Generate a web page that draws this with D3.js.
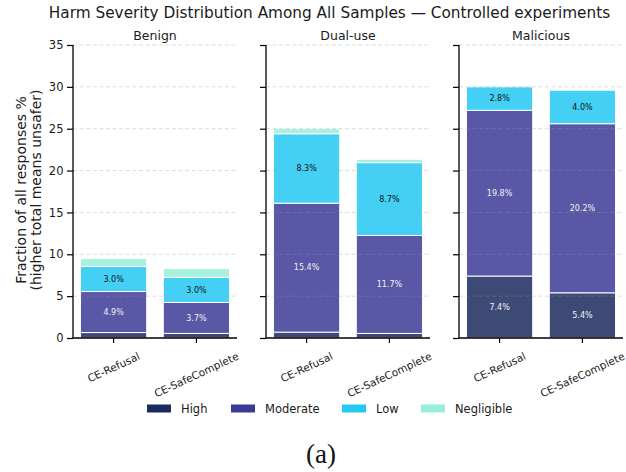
<!DOCTYPE html>
<html>
<head>
<meta charset="utf-8">
<script src="https://cdn.jsdelivr.net/npm/d3@7"></script>
<style>
  html, body { margin: 0; padding: 0; background: #fff; }
  svg { display: block; font-family: "DejaVu Sans", sans-serif; }
</style>
</head>
<body>
<svg id="chart" width="626" height="472"></svg>
<script>
// ---- data ----
const panels = ["Benign", "Dual-use", "Malicious"];
const conditions = ["CE-Refusal", "CE-SafeComplete"];
const severities = ["High", "Moderate", "Low", "Negligible"];
const high       = [[0.65, 0.55], [0.7, 0.55], [7.4, 5.4]];
const moderate   = [[4.9, 3.7], [15.4, 11.7], [19.8, 20.2]];
const low        = [[3.0, 3.0], [8.3, 8.7], [2.8, 4.0]];
const negligible = [[0.95, 1.05], [0.6, 0.4], [0.0, 0.0]];
const yTicks = [0, 5, 10, 15, 20, 25, 30, 35];
const titleText = "Harm Severity Distribution Among All Samples \u2014 Controlled experiments";
const yLabel1 = "Fraction of all responses %";
const yLabel2 = "(higher total means unsafer)";
const captionText = "(a)";

// ---- styles ----
const colors = { High: "#1b2a5e", Moderate: "#3c3a96", Low: "#23c8f3", Negligible: "#99eedb" };
const labelColors = { High: "#f2f2f2", Moderate: "#f2f2f2", Low: "#111", Negligible: "#111" };
const seriesValues = { High: high, Moderate: moderate, Low: low, Negligible: negligible };

const svg = d3.select("#chart");
const panelLeft = [73, 266, 459];
const panelW = 164;
const yTop = 45, yBottom = 338;

const y = d3.scaleLinear().domain([0, 35]).range([yBottom, yTop]);

// Title
svg.append("text").attr("x", 329.5).attr("y", 18).attr("text-anchor", "middle")
  .attr("font-size", 15.3).attr("fill", "#1a1a1a").text(titleText);

// Y label
const yl = svg.append("text").attr("transform", `translate(26,${190}) rotate(-90)`)
  .attr("text-anchor", "middle").attr("font-size", 14).attr("fill", "#1a1a1a");
yl.append("tspan").attr("x", 0).attr("dy", 0).text(yLabel1);
yl.append("tspan").attr("x", 0).attr("dy", 15.4).text(yLabel2);

panels.forEach((p, pi) => {
  const g = svg.append("g").attr("transform", `translate(${panelLeft[pi]},0)`);
  const x = d3.scaleBand().domain(conditions).range([0, panelW])
    .paddingInner(0.2).paddingOuter(0.09);

  // stacked data
  const rows = conditions.map((c, ci) => {
    const r = { cond: c };
    severities.forEach(s => r[s] = seriesValues[s][pi][ci]);
    return r;
  });
  const stacked = d3.stack().keys(severities)(rows);

  // bars
  stacked.forEach(layer => {
    const s = layer.key;
    g.selectAll(null).data(layer).enter().append("rect")
      .attr("x", d => x(d.data.cond))
      .attr("width", x.bandwidth())
      .attr("y", d => y(d[1]))
      .attr("height", d => Math.max(0, y(d[0]) - y(d[1])))
      .attr("fill", colors[s]).attr("fill-opacity", 0.85)
      .attr("stroke", "#fff").attr("stroke-width", 1)
      .style("display", d => (d[1] - d[0]) > 0 ? null : "none");
  });

  // grid lines (over bars, faint)
  g.selectAll(null).data(yTicks.filter(t => t > 0)).enter().append("line")
    .attr("x1", 0).attr("x2", panelW)
    .attr("y1", d => y(d)).attr("y2", d => y(d))
    .attr("stroke", "#9a9a9a").attr("stroke-opacity", 0.35)
    .attr("stroke-width", 1).attr("stroke-dasharray", "4,2.6");

  // segment labels
  stacked.forEach(layer => {
    const s = layer.key;
    g.selectAll(null).data(layer.filter(d => (d[1] - d[0]) >= 2)).enter().append("text")
      .attr("x", d => x(d.data.cond) + x.bandwidth() / 2)
      .attr("y", d => y((d[0] + d[1]) / 2))
      .attr("dy", "0.35em").attr("text-anchor", "middle")
      .attr("font-size", 8).attr("fill", labelColors[s])
      .text(d => (d[1] - d[0]).toFixed(1) + "%");
  });

  // y axis
  const yAxis = d3.axisLeft(y).tickValues(yTicks).tickSize(6).tickPadding(3.5);
  if (pi > 0) yAxis.tickFormat("");
  const ya = g.append("g").call(yAxis);
  ya.select(".domain").attr("stroke", "#000").attr("stroke-width", 1.3).attr("d", `M0,${yTop}V${yBottom}`);
  ya.selectAll(".tick line").attr("stroke", "#000").attr("stroke-width", 1.2);
  ya.selectAll(".tick text").attr("font-size", 11.5).attr("fill", "#1a1a1a")
    .attr("font-family", "DejaVu Sans");

  // x axis
  const xAxis = d3.axisBottom(x).tickSize(5).tickFormat("");
  const xa = g.append("g").attr("transform", `translate(0,${yBottom})`).call(xAxis);
  xa.select(".domain").attr("stroke", "#000").attr("stroke-width", 1.3).attr("d", `M0,0H${panelW}`);
  xa.selectAll(".tick line").attr("stroke", "#000").attr("stroke-width", 1.2);

  // rotated x labels, bbox centered at tick, top at y=350
  const ang = 25 * Math.PI / 180;
  const fs = 10.5;
  conditions.forEach(c => {
    const t = g.append("text").attr("font-size", fs).attr("fill", "#1a1a1a")
      .attr("text-anchor", "middle").attr("dy", "0.35em").text(c);
    const L = t.node().getComputedTextLength();
    const h = fs * 1.16;
    const bh = L * Math.sin(ang) + h * Math.cos(ang);
    const cx = x(c) + x.bandwidth() / 2;
    const cy = 350 + bh / 2;
    t.attr("transform", `translate(${cx},${cy}) rotate(-25)`);
  });

  // panel title
  g.append("text").attr("x", panelW / 2).attr("y", 40).attr("text-anchor", "middle")
    .attr("font-size", 12.5).attr("fill", "#1a1a1a").text(p);
});

// legend
const legendX = [147, 231, 342, 421];
const lg = svg.append("g");
severities.forEach((s, i) => {
  lg.append("rect").attr("x", legendX[i]).attr("y", 404.5).attr("width", 24).attr("height", 8)
    .attr("fill", colors[s]);
  lg.append("text").attr("x", legendX[i] + 34).attr("y", 408.5).attr("dy", "0.35em")
    .attr("font-size", 11.5).attr("fill", "#1a1a1a").text(s);
});

// caption
svg.append("text").attr("x", 321).attr("y", 463).attr("text-anchor", "middle")
  .attr("font-family", "'Liberation Serif', 'DejaVu Serif', serif")
  .attr("font-size", 27).attr("fill", "#111").text(captionText);
</script>
</body>
</html>
